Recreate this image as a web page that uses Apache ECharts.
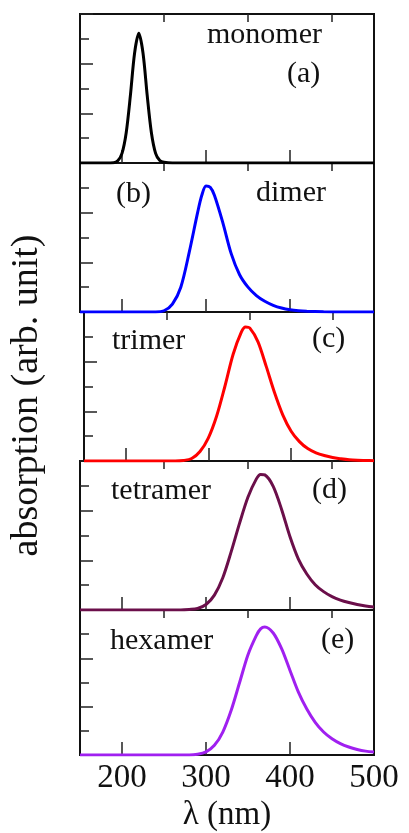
<!DOCTYPE html>
<html>
<head>
<meta charset="utf-8">
<script src="https://cdn.jsdelivr.net/npm/echarts@6/dist/echarts.min.js"></script>
<style>
  html, body { margin: 0; padding: 0; background: #fff; }
  #chart { width: 409px; height: 833px; }
</style>
</head>
<body>
<div id="chart"></div>
<script>
// absorption spectra, five stacked panels
var monoX = [150, 180, 190, 195, 200, 205, 210, 215, 220, 225, 230, 235, 240, 245, 250, 260, 280, 500];
var monoY = [0, 0, 0.01, 0.09, 0.39, 1.22, 2.72, 4.43, 5.22, 4.43, 2.72, 1.22, 0.39, 0.1, 0.03, 0, 0, 0];

var dimerX = [150, 240, 250, 260, 270, 280, 290, 295, 300, 305, 310, 320, 330, 340, 350, 360, 370, 380, 390, 400, 410, 420, 440, 460, 500];
var dimerY = [0, 0, 0.05, 0.32, 1.0, 2.4, 4.0, 4.7, 5.07, 5.02, 4.7, 3.6, 2.35, 1.5, 1.0, 0.66, 0.43, 0.27, 0.16, 0.09, 0.05, 0.03, 0.01, 0, 0];

var trimerX = [150, 260, 270, 280, 290, 300, 310, 320, 330, 340, 345, 350, 360, 370, 380, 390, 400, 410, 420, 430, 440, 450, 460, 470, 480, 490, 500];
var trimerY = [0, 0, 0.02, 0.1, 0.38, 0.92, 1.8, 3.0, 4.3, 5.2, 5.4, 5.36, 4.8, 3.8, 2.75, 1.85, 1.2, 0.78, 0.5, 0.33, 0.22, 0.14, 0.09, 0.05, 0.03, 0.02, 0.01];

var tetramerX = [150, 270, 280, 290, 300, 310, 320, 330, 340, 350, 360, 365, 370, 380, 390, 400, 410, 420, 430, 440, 450, 460, 470, 480, 490, 500];
var tetramerY = [0, 0, 0.02, 0.06, 0.22, 0.6, 1.3, 2.35, 3.5, 4.55, 5.28, 5.46, 5.44, 4.98, 4.05, 2.95, 2.05, 1.45, 1.02, 0.74, 0.54, 0.4, 0.3, 0.22, 0.16, 0.12];

var hexamerX = [150, 280, 290, 300, 310, 320, 330, 340, 350, 360, 365, 370, 380, 390, 400, 410, 420, 430, 440, 450, 460, 470, 480, 490, 500];
var hexamerY = [0, 0, 0.03, 0.13, 0.4, 0.95, 1.85, 3.0, 4.15, 4.95, 5.22, 5.3, 5.05, 4.4, 3.5, 2.6, 1.9, 1.35, 0.95, 0.67, 0.47, 0.33, 0.23, 0.16, 0.12];

var majorTicksX = [200, 300, 400];
var minorTicksX = [250, 350, 450];
var tickLabelsX = [200, 300, 400, 500];

var panelNames = ['monomer', 'dimer', 'trimer', 'tetramer', 'hexamer'];
var panelColors = ['#000000', '#0000ff', '#ff0000', '#6b0f4a', '#a020f0'];
var panelX = [monoX, dimerX, trimerX, tetramerX, hexamerX];
var panelY = [monoY, dimerY, trimerY, tetramerY, hexamerY];

var serif = '"Liberation Serif", "Times New Roman", serif';
var top0 = 14, panelH = 149, n = 5;

function pairs(xs, ys) {
    var out = [];
    for (var i = 0; i < xs.length; i++) out.push([xs[i], ys[i]]);
    return out;
}

var grids = [], xAxes = [], yAxes = [], series = [];
for (var i = 0; i < n; i++) {
    grids.push({
        left: 80, width: 294, top: top0 + panelH * i, height: panelH,
        show: true, borderColor: '#111', borderWidth: 2, backgroundColor: 'transparent'
    });
    xAxes.push({
        type: 'value', gridIndex: i, min: 150, max: 500,
        axisLine: { show: true, lineStyle: { color: '#111', width: 2 } },
        axisTick: { inside: true, length: 13, customValues: majorTicksX, lineStyle: { color: '#222', width: 1.5 } },
        axisLabel: {
            show: i === n - 1, customValues: tickLabelsX, margin: 7,
            fontFamily: serif, fontSize: 33, color: '#111'
        },
        splitLine: { show: false },
        name: i === n - 1 ? 'λ (nm)' : '',
        nameLocation: 'middle', nameGap: 44,
        nameTextStyle: { fontFamily: serif, fontSize: 33, color: '#111' }
    });
    xAxes.push({
        type: 'value', gridIndex: i, min: 150, max: 500,
        axisLine: { show: false },
        axisTick: { inside: true, length: 8, customValues: minorTicksX, lineStyle: { color: '#222', width: 1.5 } },
        axisLabel: { show: false },
        splitLine: { show: false }
    });
    yAxes.push({
        type: 'value', gridIndex: i, min: 0, max: 6, interval: 2,
        axisLine: { show: true, lineStyle: { color: '#111', width: 2 } },
        axisTick: { inside: true, length: 13, lineStyle: { color: '#222', width: 1.5 } },
        minorTick: { show: true, splitNumber: 2, length: 9, lineStyle: { color: '#222', width: 1.5 } },
        axisLabel: { show: false },
        splitLine: { show: false },
        name: i === 2 ? 'absorption (arb. unit)' : '',
        nameLocation: 'middle', nameRotate: 90, nameGap: 38,
        nameTextStyle: { fontFamily: serif, fontSize: 38, color: '#111', padding: [0, 18, 0, 0] }
    });
    series.push({
        name: panelNames[i],
        type: 'line',
        xAxisIndex: i * 2,
        yAxisIndex: i,
        data: pairs(panelX[i], panelY[i]),
        smooth: 0.3,
        showSymbol: false,
        lineStyle: { color: panelColors[i], width: 3 },
        itemStyle: { color: panelColors[i] }
    });
}

function label(text, x, y) {
    return {
        type: 'text', x: x, y: y,
        style: { text: text, fontFamily: serif, fontSize: 30, fill: '#111', textAlign: 'left', textVerticalAlign: 'middle' }
    };
}

var chart = echarts.init(document.getElementById('chart'));
chart.setOption({
    animation: false,
    backgroundColor: '#fff',
    grid: grids,
    xAxis: xAxes,
    yAxis: yAxes,
    series: series,
    graphic: [
        label('monomer', 207, 35),
        label('(a)', 287, 74),
        label('(b)', 116, 194),
        label('dimer', 256, 193),
        label('trimer', 112, 341),
        label('(c)', 312, 339),
        label('tetramer', 111, 491),
        label('(d)', 312, 490),
        label('hexamer', 110, 641),
        label('(e)', 321, 640)
    ]
});
</script>
</body>
</html>
